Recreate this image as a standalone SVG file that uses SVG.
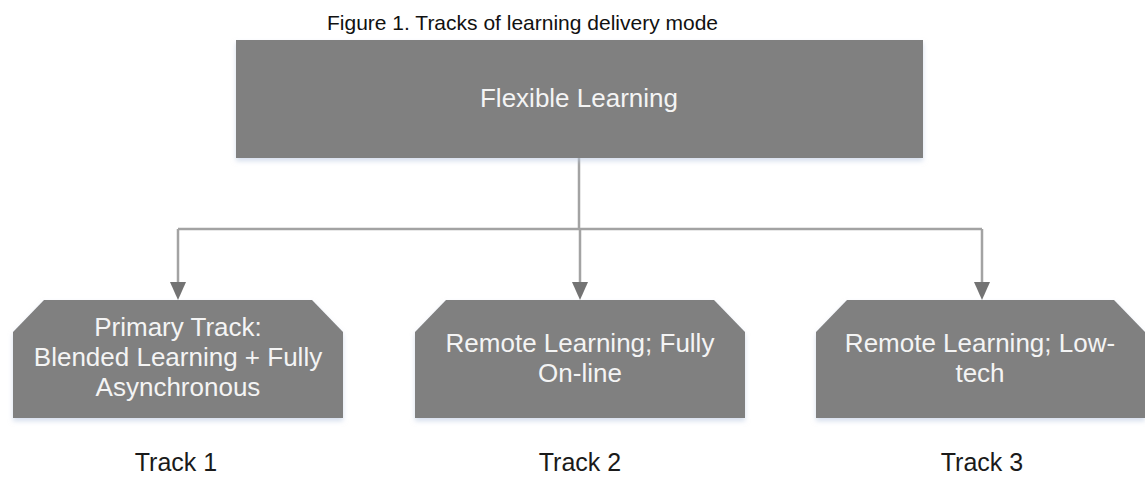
<svg xmlns="http://www.w3.org/2000/svg" width="1145" height="477" viewBox="0 0 1145 477">
<style>
.box{fill:#808080;filter:url(#sh)}
.bt{font-family:"Liberation Sans",Arial,sans-serif;font-size:26px;fill:#f4f4f4;text-anchor:middle}
.lbl{font-family:"Liberation Sans",Arial,sans-serif;font-size:25px;fill:#1a1a1a;text-anchor:middle}
.cap{font-family:"Liberation Sans",Arial,sans-serif;font-size:21px;fill:#111}
.ln{stroke:#a3a3a3;stroke-width:2.5;fill:none}
</style>
<defs>
<filter id="sh" x="-5%" y="-5%" width="110%" height="125%">
<feDropShadow dx="0" dy="3" stdDeviation="2.5" flood-color="#b9c8e0" flood-opacity="0.6"/>
</filter>
</defs>
<text class="cap" x="327" y="30">Figure 1. Tracks of learning delivery mode</text>
<g id="connectors">
<line class="ln" x1="579" y1="158" x2="579" y2="229"/>
<line class="ln" x1="178" y1="229" x2="982" y2="229"/>
<path d="M178,229 V282" class="ln"/>
<path d="M580,229 V282" class="ln"/>
<path d="M982,229 V282" class="ln"/>
<path d="M170,282 L186,282 L178,300 Z" fill="#737373"/>
<path d="M572,282 L588,282 L580,300 Z" fill="#737373"/>
<path d="M974,282 L990,282 L982,300 Z" fill="#737373"/>
</g>
<g id="flexible">
<rect class="box" x="236" y="40" width="687" height="118"/>
<text class="bt" x="579" y="107">Flexible Learning</text>
</g>
<g id="track1">
<path class="box" d="M44,300 L312,300 L343,332 L343,418 L13,418 L13,332 Z"/>
<text class="bt" x="178" y="336">Primary Track:</text>
<text class="bt" x="178" y="366">Blended Learning + Fully</text>
<text class="bt" x="178" y="396">Asynchronous</text>
</g>
<g id="track2">
<path class="box" d="M446,300 L714,300 L745,332 L745,418 L415,418 L415,332 Z"/>
<text class="bt" x="580" y="352">Remote Learning; Fully</text>
<text class="bt" x="580" y="382">On-line</text>
</g>
<g id="track3">
<path class="box" d="M847,300 L1114,300 L1145,332 L1145,418 L816,418 L816,332 Z"/>
<text class="bt" x="980" y="352">Remote Learning; Low-</text>
<text class="bt" x="980" y="382">tech</text>
</g>
<g id="labels">
<text class="lbl" x="176" y="471">Track 1</text>
<text class="lbl" x="580" y="471">Track 2</text>
<text class="lbl" x="982" y="471">Track 3</text>
</g>
</svg>
